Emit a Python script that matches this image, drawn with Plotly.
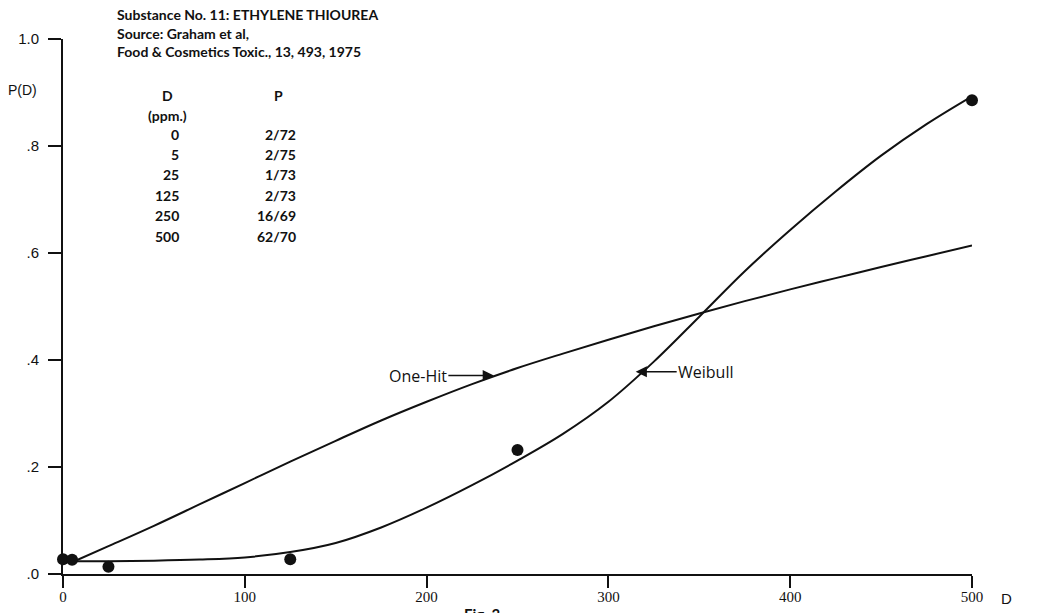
import plotly.graph_objects as go

# Observed bioassay data: dose (ppm) and tumour incidence
DOSES = [0, 5, 25, 125, 250, 500]
RESPONDERS = [2, 2, 1, 2, 16, 62]
TOTALS = [72, 75, 73, 73, 69, 70]

# Fitted dose-response curves (dose, probability)
ONE_HIT_D = [5, 25, 50, 75, 100, 125, 150, 175, 200, 225, 250, 275, 300,
             325, 350, 375, 400, 425, 450, 475, 500]
ONE_HIT_P = [0.022, 0.052, 0.09, 0.13, 0.17, 0.21, 0.249, 0.287, 0.322, 0.355,
             0.385, 0.412, 0.438, 0.463, 0.487, 0.51, 0.532, 0.553, 0.574,
             0.594, 0.614]

WEIBULL_D = [0, 25, 50, 75, 100, 125, 150, 175, 200, 225, 250, 275, 300,
             325, 350, 375, 400, 425, 450, 475, 500]
WEIBULL_P = [0.024, 0.024, 0.025, 0.027, 0.031, 0.041, 0.058, 0.087, 0.124,
             0.166, 0.212, 0.262, 0.322, 0.397, 0.481, 0.566, 0.643, 0.715,
             0.782, 0.841, 0.893]

X_TICKS = [0, 100, 200, 300, 400, 500]
Y_TICKS = [0, 0.2, 0.4, 0.6, 0.8, 1.0]
Y_TICK_TEXT = [".0", ".2", ".4", ".6", ".8", "1.0"]

W, H = 1047, 613
L, R, T, B = 63, 75, 39, 39
PW, PH = W - L - R, H - T - B


def px(x):
    return (x - L) / PW


def py(y):
    return (H - B - y) / PH


SANS = "Open Sans"
TICKS = "Liberation Sans"
BOLD = "Lato"
INK = "#111111"

p_obs = [r / n for r, n in zip(RESPONDERS, TOTALS)]

fig = go.Figure()
fig.add_trace(go.Scatter(x=ONE_HIT_D, y=ONE_HIT_P, mode="lines",
                         line=dict(color=INK, width=2, shape="spline", smoothing=1),
                         cliponaxis=False, hoverinfo="skip"))
fig.add_trace(go.Scatter(x=WEIBULL_D, y=WEIBULL_P, mode="lines",
                         line=dict(color=INK, width=2, shape="spline", smoothing=1),
                         cliponaxis=False, hoverinfo="skip"))
fig.add_trace(go.Scatter(x=DOSES, y=p_obs, mode="markers",
                         marker=dict(color=INK, size=12),
                         cliponaxis=False))

ann = []
# heading
heading = ["Substance No. 11: ETHYLENE THIOUREA",
           "Source: Graham et al,",
           "Food & Cosmetics Toxic., 13, 493, 1975"]
for i, line in enumerate(heading):
    ann.append(dict(x=px(115), y=py(14 + 19 * i), xref="paper", yref="paper",
                    text=f"<b>{line}</b>", showarrow=False, xanchor="left",
                    yanchor="middle", font=dict(family=BOLD, size=14, color=INK)))

# dose / response table
tfont = dict(family=BOLD, size=14, color=INK)
ann.append(dict(x=px(167), y=py(95), xref="paper", yref="paper", text="<b>D</b>",
                showarrow=False, xanchor="center", yanchor="middle", font=tfont))
ann.append(dict(x=px(278), y=py(95), xref="paper", yref="paper", text="<b>P</b>",
                showarrow=False, xanchor="center", yanchor="middle", font=tfont))
ann.append(dict(x=px(167), y=py(116), xref="paper", yref="paper", text="<b>(ppm.)</b>",
                showarrow=False, xanchor="center", yanchor="middle", font=tfont))
for i, (d, r, n) in enumerate(zip(DOSES, RESPONDERS, TOTALS)):
    yy = py(134 + 20.4 * i)
    ann.append(dict(x=px(181), y=yy, xref="paper", yref="paper", text=f"<b>{d}</b>",
                    showarrow=False, xanchor="right", yanchor="middle", font=tfont))
    ann.append(dict(x=px(298), y=yy, xref="paper", yref="paper", text=f"<b>{r}/{n}</b>",
                    showarrow=False, xanchor="right", yanchor="middle", font=tfont))

# axis names
ann.append(dict(x=px(22), y=py(90), xref="paper", yref="paper", text="P(D)",
                showarrow=False, xanchor="center", yanchor="middle",
                font=dict(family=TICKS, size=14, color=INK)))
ann.append(dict(x=px(1006), y=py(598), xref="paper", yref="paper", text="D",
                showarrow=False, xanchor="center", yanchor="middle",
                font=dict(family=TICKS, size=15, color=INK)))
ann.append(dict(x=px(482), y=py(603), xref="paper", yref="paper", text="<b>Fig. 3</b>",
                showarrow=False, xanchor="center", yanchor="top",
                font=dict(family=BOLD, size=15, color=INK)))

# curve labels with arrows
ann.append(dict(x=237, y=0.371, xref="x", yref="y",
                text="One-Hit", showarrow=True, ax=-76, ay=0, axref="pixel",
                arrowhead=2, arrowsize=1.6, arrowwidth=1.4, arrowcolor=INK,
                standoff=0, font=dict(family=SANS, size=16, color=INK)))
ann.append(dict(x=315, y=0.378, xref="x", yref="y",
                text="Weibull", showarrow=True, ax=70, ay=0, axref="pixel",
                arrowhead=2, arrowsize=1.6, arrowwidth=1.4, arrowcolor=INK,
                standoff=0, font=dict(family=SANS, size=16, color=INK)))

fig.update_layout(
    width=W, height=H,
    margin=dict(l=L, r=R, t=T, b=B),
    paper_bgcolor="white", plot_bgcolor="white",
    showlegend=False,
    annotations=ann,
    xaxis=dict(range=[0, 500], tickvals=X_TICKS, ticks="outside", ticklen=12,
               tickwidth=2, tickcolor=INK, showline=True, linecolor=INK,
               linewidth=2, showgrid=False, zeroline=False, ticklabelstandoff=-4,
               automargin=False,
               tickfont=dict(family="Liberation Serif", size=15, color=INK)),
    yaxis=dict(range=[0, 1], tickvals=Y_TICKS, ticktext=Y_TICK_TEXT,
               ticks="outside", ticklen=13, tickwidth=2, tickcolor=INK,
               showline=True, linecolor=INK, linewidth=2, showgrid=False,
               zeroline=False, ticklabelstandoff=6, automargin=False,
               tickfont=dict(family=TICKS, size=15, color=INK)),
)

fig.write_html("out.html")
